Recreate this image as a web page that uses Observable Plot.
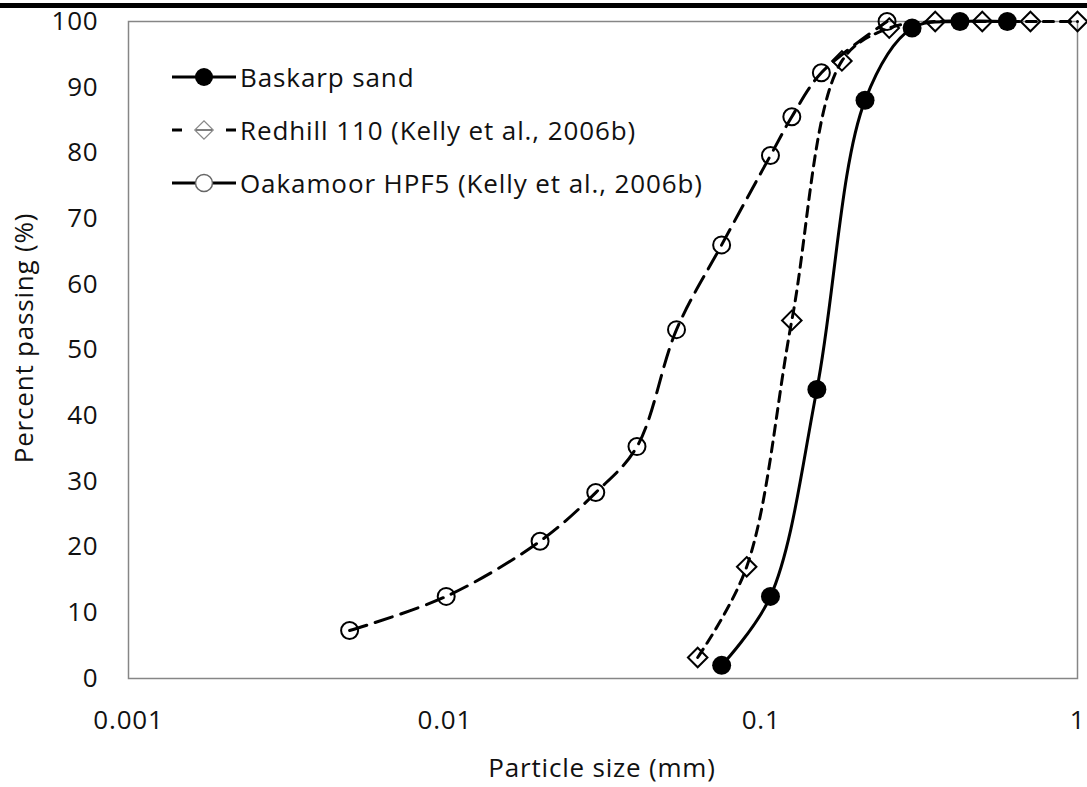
<!DOCTYPE html>
<html>
<head>
<meta charset="utf-8">
<script src="https://cdn.jsdelivr.net/npm/d3@7"></script>
<script src="https://cdn.jsdelivr.net/npm/@observablehq/plot@0.6"></script>
<style>
  html, body { margin: 0; padding: 0; background: #fff; }
  #wrap { position: relative; width: 1087px; height: 787px; font-family: "Open Sans", sans-serif; }
  #topbar { position: absolute; left: 0; top: 3px; width: 1087px; height: 5px; background: #000; }
  #legend { position: absolute; left: 172px; top: 50px; font-size: 26px; letter-spacing: 0.9px; color: #111; }
  .row { display: flex; align-items: center; height: 53px; }
  .row svg { width: 64px; height: 24px; margin-right: 4px; overflow: visible; }
  #chart svg text { letter-spacing: 0.8px; }
</style>
</head>
<body>
<div id="wrap">
  <div id="chart"></div>
  <div id="topbar"></div>
  <div id="legend"></div>
</div>
<script>
// Series data (particle size in mm, percent passing)
const baskarpSize = [0.075, 0.107, 0.150, 0.213, 0.30, 0.425, 0.60];
const baskarpPass = [2, 12.5, 44, 88, 99, 100, 100];
const redhillSize = [0.063, 0.090, 0.125, 0.18, 0.254, 0.355, 0.5, 0.71, 1.0];
const redhillPass = [3.2, 17, 54.5, 94, 99, 100, 100, 100, 100];
const oakSize = [0.005, 0.0101, 0.020, 0.030, 0.0405, 0.054, 0.075, 0.107, 0.125, 0.155, 0.25];
const oakPass = [7.3, 12.5, 20.9, 28.3, 35.3, 53.1, 66, 79.6, 85.5, 92.2, 100];

const seriesNames = ["Baskarp sand", "Redhill 110 (Kelly et al., 2006b)", "Oakamoor HPF5 (Kelly et al., 2006b)"];
const xTicks = [0.001, 0.01, 0.1, 1];
const xTickLabels = ["0.001", "0.01", "0.1", "1"];
const yTicks = [0, 10, 20, 30, 40, 50, 60, 70, 80, 90, 100];
const xLabel = "Particle size (mm)";
const yLabel = "Percent passing (%)";

const toRows = (xs, ys) => xs.map((x, i) => ({x, y: ys[i]}));
const baskarp = toRows(baskarpSize, baskarpPass);
const redhill = toRows(redhillSize, redhillPass);
const oak = toRows(oakSize, oakPass);

const chart = Plot.plot({
  width: 1087,
  height: 787,
  marginLeft: 128,
  marginRight: 10,
  marginTop: 21,
  marginBottom: 109,
  style: { fontFamily: "Open Sans, sans-serif", fontSize: "26px", color: "#111", background: "transparent" },
  x: { type: "log", domain: [0.001, 1], ticks: xTicks, tickFormat: (d) => xTickLabels[xTicks.indexOf(d)] ?? "", tickSize: 0, tickPadding: 32, label: null },
  y: { domain: [0, 100], ticks: yTicks, tickSize: 0, tickPadding: 30, label: null },
  marks: [
    Plot.frame({ stroke: "#868686", strokeWidth: 1.5 }),
    Plot.line(oak, { x: "x", y: "y", curve: "catmull-rom", stroke: "#000", strokeWidth: 3, strokeDasharray: "18,9" }),
    Plot.line(redhill, { x: "x", y: "y", curve: "catmull-rom", stroke: "#000", strokeWidth: 3, strokeDasharray: "10,7" }),
    Plot.line(baskarp, { x: "x", y: "y", curve: "catmull-rom", stroke: "#000", strokeWidth: 3 }),
    Plot.dot(oak, { x: "x", y: "y", r: 8.5, fill: "none", stroke: "#000", strokeWidth: 2 }),
    Plot.dot(redhill, { x: "x", y: "y", r: 8.8, symbol: "diamond2", fill: "none", stroke: "#000", strokeWidth: 2 }),
    Plot.dot(baskarp, { x: "x", y: "y", r: 9.5, fill: "#000", stroke: "none" })
  ]
});
document.getElementById("chart").appendChild(chart);

const svg = d3.select(chart);
svg.append("text")
  .attr("x", 602).attr("y", 777)
  .attr("text-anchor", "middle")
  .attr("font-family", "Open Sans, sans-serif").attr("font-size", 26).attr("fill", "#111")
  .text(xLabel);
svg.append("text")
  .attr("transform", "translate(33,338) rotate(-90)")
  .attr("text-anchor", "middle")
  .attr("font-family", "Open Sans, sans-serif").attr("font-size", 26).attr("fill", "#111")
  .text(yLabel);

// Legend
const legend = d3.select("#legend");
const styles = [
  { dash: null, marker: "dotFilled" },
  { dash: "10,44,10", marker: "diamond" },
  { dash: null, marker: "dotOpen" }
];
seriesNames.forEach((name, i) => {
  const row = legend.append("div").attr("class", "row");
  const s = row.append("svg").attr("viewBox", "0 0 64 24");
  s.append("line").attr("x1", 0).attr("x2", 64).attr("y1", 12).attr("y2", 12)
    .attr("stroke", "#000").attr("stroke-width", 2.8)
    .attr("stroke-dasharray", styles[i].dash);
  if (styles[i].marker === "dotFilled") {
    s.append("circle").attr("cx", 32).attr("cy", 12).attr("r", 9).attr("fill", "#000");
  } else if (styles[i].marker === "dotOpen") {
    s.append("circle").attr("cx", 32).attr("cy", 12).attr("r", 8.5).attr("fill", "#fff").attr("stroke", "#666").attr("stroke-width", 1.5);
  } else {
    s.append("rect").attr("x", 32 - 6.5).attr("y", 12 - 6.5).attr("width", 13).attr("height", 13)
      .attr("transform", "rotate(45,32,12)").attr("fill", "#fff").attr("stroke", "#888").attr("stroke-width", 1.2);
    s.append("line").attr("x1", 24).attr("x2", 40).attr("y1", 12).attr("y2", 12).attr("stroke", "#555").attr("stroke-width", 1.5);
  }
  row.append("span").text(name);
});
</script>
</body>
</html>
